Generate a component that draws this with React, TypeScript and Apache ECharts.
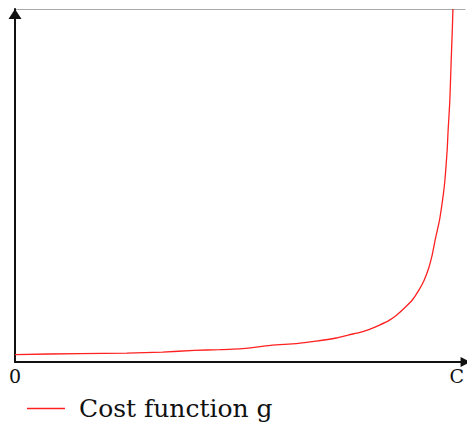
import React, { useEffect, useRef } from "react";
import * as echarts from "echarts";

// x positions as a fraction (0..100) of the capacity C
const xValues = [0, 14.7, 25.3, 33.4, 40.6, 46.3, 50.8, 54.6, 58.2, 63.7, 68.2, 72.7, 75.6, 77.9, 80.1, 82.4, 84.7, 86.5, 88.4, 89.9, 91.4, 92.6, 93.68, 94.42, 95.19, 96.09, 96.84, 97.29, 97.59, 97.86, 98.04, 98.42, 98.71, 99.03, 99.14];
// cost function g values (0..100 = top of the plot)
const gValues = [2.1, 2.4, 2.5, 2.8, 3.3, 3.5, 3.7, 4.2, 4.8, 5.2, 5.9, 6.8, 7.7, 8.3, 9.2, 10.4, 11.8, 13.4, 15.6, 17.5, 20.3, 23.1, 26.7, 30.2, 35.0, 40.1, 46.3, 51.0, 55.7, 60.6, 65.4, 73.6, 84.1, 95.3, 100];

const xTickValues = [0, 100];
const xTickLabels = ["0", "C"];
const seriesName = "Cost function g";

const SERIF = "'DejaVu Serif', 'Liberation Serif', 'Times New Roman', serif";

export default function App() {
  const ref = useRef<HTMLDivElement>(null);

  useEffect(() => {
    if (!ref.current) return;
    const chart = echarts.init(ref.current, undefined, { renderer: "svg" });
    const data = xValues.map((x, i) => [x, gValues[i]]);
    chart.setOption({
      animation: false,
      backgroundColor: "#ffffff",
      grid: { left: 15, right: 0, top: 9, bottom: 64, containLabel: false },
      legend: {
        data: [seriesName],
        icon: "rect",
        left: 22,
        top: 391,
        padding: 5,
        itemWidth: 38,
        itemHeight: 1.3,
        itemStyle: { color: "#ff2020" },
        textStyle: {
          fontFamily: SERIF,
          fontSize: 25,
          color: "#111111",
          padding: [0, 0, 0, 9],
        },
      },
      xAxis: {
        type: "value",
        min: 0,
        max: 102,
        axisLine: {
          show: true,
          symbol: ["none", "triangle"],
          symbolSize: [10, 10],
          lineStyle: { color: "#111111", width: 2 },
        },
        axisTick: { show: false },
        splitLine: { show: false },
        axisLabel: {
          show: true,
          customValues: xTickValues,
          formatter: (v: number) => {
            const i = xTickValues.indexOf(v);
            return i >= 0 ? xTickLabels[i] : "";
          },
          fontFamily: SERIF,
          fontSize: 19,
          color: "#111111",
          margin: 4,
        },
      },
      yAxis: {
        type: "value",
        min: 0,
        max: 100,
        interval: 100,
        axisLine: {
          show: true,
          symbol: ["none", "triangle"],
          symbolSize: [13, 10],
          symbolOffset: [0, -5],
          lineStyle: { color: "#111111", width: 2 },
        },
        axisTick: { show: false },
        axisLabel: { show: false },
        splitLine: { show: true, lineStyle: { color: "#aaaaaa", width: 1 } },
      },
      series: [
        {
          name: seriesName,
          type: "line",
          data,
          smooth: 0.2,
          showSymbol: false,
          symbol: "none",
          clip: true,
          lineStyle: { color: "#ff2020", width: 1.3 },
          itemStyle: { color: "#ff2020" },
        },
      ],
    });
    return () => chart.dispose();
  }, []);

  return (
    <div
      ref={ref}
      style={{ position: "fixed", left: 0, top: 0, width: 467, height: 426 }}
    />
  );
}
